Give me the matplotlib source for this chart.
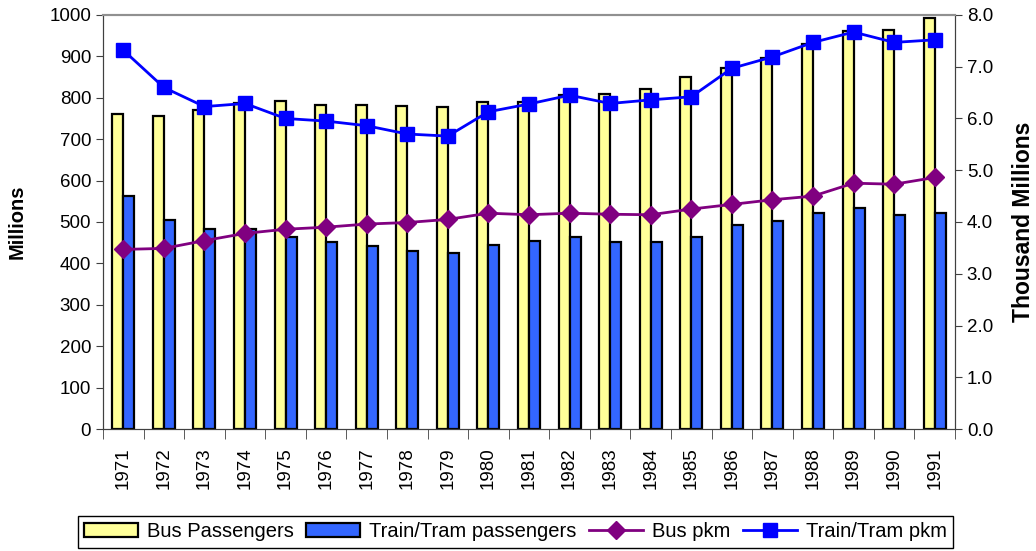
import matplotlib.pyplot as plt
import numpy as np

plt.rcParams['font.family'] = ['Liberation Sans', 'DejaVu Sans']

years = [str(y) for y in range(1971, 1992)]

# Millions of passengers (left axis)
bus_passengers = [762, 755, 770, 788, 793, 783, 783, 779, 777, 790, 790,
                  806, 809, 821, 851, 872, 896, 930, 962, 964, 993]
train_passengers = [563, 506, 482, 482, 463, 451, 442, 429, 426, 444, 455,
                    464, 452, 452, 464, 493, 503, 522, 534, 517, 522]

# Thousand millions of passenger km (right axis)
bus_pkm = [3.47, 3.49, 3.64, 3.78, 3.86, 3.90, 3.96, 3.99, 4.05, 4.17, 4.14,
           4.17, 4.15, 4.14, 4.25, 4.34, 4.43, 4.50, 4.75, 4.73, 4.86]
train_pkm = [7.32, 6.60, 6.23, 6.29, 6.00, 5.95, 5.86, 5.70, 5.66, 6.13, 6.28,
             6.45, 6.29, 6.36, 6.42, 6.97, 7.19, 7.47, 7.67, 7.47, 7.52]

fig = plt.figure(figsize=(10.36, 5.51), dpi=100)
ax = fig.add_axes([0.0994, 0.2214, 0.8224, 0.7514])
ax2 = ax.twinx()

x = np.arange(len(years))
w = 0.27
b1 = ax.bar(x - w / 2, bus_passengers, w, color='#FFFF99', edgecolor='black', linewidth=1.6,
            label='Bus Passengers', zorder=2)
b2 = ax.bar(x + w / 2, train_passengers, w, color='#3366FF', edgecolor='black', linewidth=1.6,
            label='Train/Tram passengers', zorder=2)

l1, = ax2.plot(x, bus_pkm, color='#800080', marker='D', markersize=9, linewidth=2,
               label='Bus pkm')
l2, = ax2.plot(x, train_pkm, color='#0000FF', marker='s', markersize=10, linewidth=2,
               label='Train/Tram pkm')

ax.set_xlim(-0.5, len(years) - 0.5)
ax.set_ylim(0, 1000)
ax.set_yticks(np.arange(0, 1001, 100))
ax2.set_ylim(0, 8)
ax2.set_yticks(np.arange(0, 8.1, 1))
ax2.set_yticklabels([f'{v:.1f}' for v in np.arange(0, 8.1, 1)])

ax.set_xticks(x)
ax.set_xticklabels(years, rotation=90)
ax.set_xticks(np.arange(-0.5, len(years), 1), minor=True)
ax.tick_params(axis='x', which='major', length=0, pad=13, labelsize=13.5)
ax.tick_params(axis='x', which='minor', length=7, direction='out', color='#404040')
ax.tick_params(axis='y', length=5, labelsize=13.5, color='#404040')
ax2.tick_params(axis='y', length=5, labelsize=13.5, color='#404040')

for a in (ax, ax2):
    for side in ('left', 'right', 'bottom'):
        a.spines[side].set_color('#404040')
    a.spines['top'].set_color('#909090')
    a.spines['top'].set_linewidth(1.5)

ax.set_ylabel('Millions', fontsize=14.5, fontweight='bold')
ax.yaxis.set_label_coords(-0.0892, 0.5)
ax2.set_ylabel('Thousand Millions', fontsize=16.5, fontweight='bold')
ax2.yaxis.set_label_coords(1.067, 0.5)

fig.legend(handles=[b1, b2, l1, l2], loc='center', bbox_to_anchor=(0.4975, 0.0345), ncol=4,
           fontsize=14.5, frameon=True, fancybox=False, edgecolor='black', framealpha=1,
           handlelength=2.7, handletextpad=0.45, columnspacing=0.6, borderpad=0.3,
           borderaxespad=0)

fig.savefig('out.png', dpi=100)
